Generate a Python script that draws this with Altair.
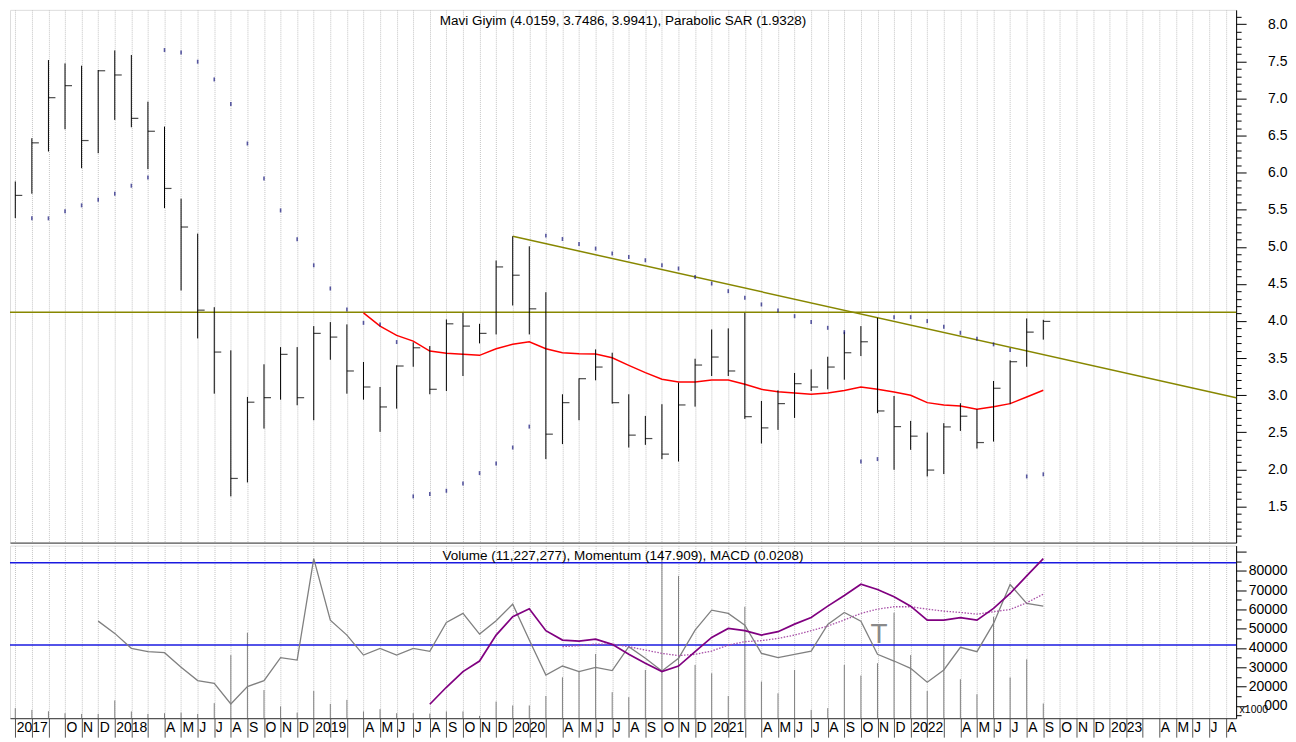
import altair as alt
import pandas as pd

FONT = "Liberation Sans"

# ---------------- data (monthly, slot 0 = Jul 2017) ----------------
high = [5.881, 6.464, 7.518, 7.473, 7.442, 7.384, 7.648, 7.586, 6.957, 6.621,
        5.649, 5.178, 4.186, 3.604, 2.976, 3.416, 3.648, 3.648, 3.931, 3.985,
        3.954, 3.447, 3.110, 3.402, 3.712, 3.662, 4.021, 4.110, 3.962, 4.815,
        5.142, 5.007, 4.388, 3.012, 3.227, 3.617, 3.572, 3.012, 2.720, 2.878,
        3.168, 3.491, 3.886, 3.900, 4.110, 2.922, 3.066, 3.299, 3.348, 3.518,
        3.854, 3.931, 4.042, 2.989, 2.653, 2.496, 2.622, 2.891, 2.810, 3.191,
        3.469, 4.034, 4.0159]
low = [5.388, 5.716, 6.285, 6.585, 6.060, 6.262, 6.711, 6.612, 6.047, 5.522,
       4.411, 3.765, 3.020, 1.635, 1.823, 2.549, 2.939, 2.864, 2.662, 3.477,
       3.020, 2.939, 2.505, 2.818, 3.383, 3.012, 3.056, 3.258, 3.698, 3.819,
       4.209, 3.819, 2.138, 2.340, 2.662, 3.200, 2.886, 2.294, 2.330, 2.138,
       2.105, 2.845, 3.258, 3.258, 2.680, 2.348, 2.532, 2.693, 3.056, 3.079,
       3.208, 3.527, 2.757, 1.994, 2.263, 1.904, 1.936, 2.518, 2.280, 2.374,
       2.878, 3.383, 3.7486]
close = [5.693, 6.402, 7.011, 7.173, 6.433, 7.374, 7.317, 6.733, 6.558, 5.787,
         5.267, 4.146, 3.581, 1.877, 2.905, 2.966, 3.550, 2.966, 3.833, 3.783,
         3.326, 3.110, 2.841, 3.393, 3.639, 3.079, 3.962, 3.931, 3.833, 4.729,
         4.617, 4.164, 2.474, 2.899, 3.222, 3.379, 2.899, 2.461, 2.415, 2.205,
         2.868, 3.406, 3.514, 3.326, 2.710, 2.559, 2.886, 3.155, 3.110, 3.379,
         3.572, 3.720, 2.787, 2.576, 2.447, 1.990, 2.572, 2.716, 2.361, 3.093,
         3.451, 3.850, 3.9941]
sar = [None, 5.384, 5.384, 5.478, 5.559, 5.635, 5.716, 5.824, 5.935, 7.653,
       7.621, 7.496, 7.257, 6.927, 6.393, 5.922, 5.491, 5.101, 4.751, 4.438,
       4.155, 3.975, 3.954, 3.716, 1.635, 1.667, 1.711, 1.810, 1.949, 2.079,
       2.294, 2.576, 5.151, 5.105, 5.038, 4.976, 4.909, 4.863, 4.819, 4.751,
       4.707, 4.594, 4.505, 4.402, 4.312, 4.223, 4.142, 4.065, 3.985, 3.908,
       3.850, 2.105, 2.138, 4.052, 4.052, 3.998, 3.921, 3.841, 3.760, 3.685,
       3.608, 1.904, 1.9328]
ma_start = 21
ma = [4.110, 3.931, 3.806, 3.729, 3.595, 3.564, 3.550, 3.537, 3.626, 3.685,
      3.720, 3.626, 3.572, 3.558, 3.554, 3.504, 3.402, 3.303, 3.214, 3.178,
      3.178, 3.204, 3.204, 3.147, 3.079, 3.047, 3.030, 3.012, 3.030, 3.063,
      3.110, 3.079, 3.043, 2.999, 2.899, 2.868, 2.855, 2.810, 2.845, 2.886,
      2.976, 3.066]
resistance_level = [4.119]
trend_slots = [30, 73.63]
trend_prices = [5.142, 2.966]

volume = [8800, 7900, 7200, 6200, 5800, 5800, 12800, 7100, 5800, 6200,
          6500, 5800, 11400, 36300, 47900, 18200, 9700, 6500, 17700, 11000,
          13100, 7100, 8300, 6200, 6200, 6000, 7100, 7100, 4800, 12200,
          10200, 10200, 15100, 24800, 27800, 36900, 17100, 14500, 28600, 90500,
          77400, 31200, 26900, 15100, 61400, 22600, 16500, 28600, 7900, 8800,
          31200, 25700, 32100, 58300, 36300, 17700, 41500, 23800, 16000, 56200,
          24700, 34100, 11227]
mom_start = 5
momentum = [53930, 47570, 39810, 38100, 37585, 29980, 23100, 21710, 11000, 20000,
            23100, 35000, 33760, 86360, 54450, 46690, 36340, 39810, 36340, 39810,
            38260, 53260, 57910, 47210, 54140, 62720, 44100, 26000, 30650, 27760,
            29980, 28280, 40690, 34640, 28070, 34640, 49280, 59620, 57910, 51860,
            37220, 35000, 36710, 38410, 52220, 58430, 53930, 36710, 33240, 29460,
            22220, 28590, 40330, 38100, 52740, 72910, 63090, 61690]
macd_start = 25
macd = [10840, 19640, 27760, 33240, 46690, 56210, 60340, 48965, 44100, 43590,
        44620, 41880, 36710, 32050, 27760, 30650, 38100, 45500, 50150, 48965,
        46690, 48450, 52380, 55840, 61690, 67220, 73070, 70330, 66550, 61690,
        54450, 54450, 55690, 54450, 60500, 68260, 77410, 86360]
signal_start = 33
signal = [40690, 41210, 42030, 42030, 40690, 38930, 37220, 36030, 36710, 38410,
          41520, 43275, 43790, 44980, 46690, 48965, 51340, 54550, 57910, 60140,
          61380, 61380, 60140, 59100, 58430, 57550, 58790, 59980, 63450, 67900]
blue_levels = [84140, 41520]
t_marker = {"slot": [52.1], "val": [46690], "txt": ["T"]}

month_labels = (
    ["2017", "", "", "O", "N", "D"]
    + ["2018", "", "", "A", "M", "J", "J", "A", "S", "O", "N", "D"]
    + ["2019", "", "", "A", "M", "J", "J", "A", "S", "O", "N", "D"]
    + ["2020", "", "", "A", "M", "J", "J", "A", "S", "O", "N", "D"]
    + ["2021", "", "", "A", "M", "J", "J", "A", "S", "O", "N", "D"]
    + ["2022", "", "", "A", "M", "J", "J", "A", "S", "O", "N", "D"]
    + ["2023", "", "", "A", "M", "J", "J", "A"]
)

title_top = "Mavi Giyim (4.0159, 3.7486, 3.9941), Parabolic SAR (1.9328)"
title_bottom = "Volume (11,227,277), Momentum (147.909), MACD (0.0208)"

# ---------------- frames ----------------
n = len(close)
price_df = pd.DataFrame({"slot": list(range(n)), "high": high, "low": low, "close": close})
sar_df = pd.DataFrame({"slot": list(range(n)), "sar": sar}).dropna()
ma_df = pd.DataFrame({"slot": list(range(ma_start, ma_start + len(ma))), "ma": ma})
hl_df = pd.DataFrame({"level": resistance_level})
trend_df = pd.DataFrame({"slot": trend_slots, "price": trend_prices})

vol_df = pd.DataFrame({"slot": list(range(n)), "vol": volume})
mom_df = pd.DataFrame({"slot": list(range(mom_start, mom_start + len(momentum))), "v": momentum})
macd_df = pd.DataFrame({"slot": list(range(macd_start, macd_start + len(macd))), "v": macd})
sig_df = pd.DataFrame({"slot": list(range(signal_start, signal_start + len(signal))), "v": signal})
blue_df = pd.DataFrame({"level": blue_levels})
t_df = pd.DataFrame(t_marker)

# ---------------- scales / axes ----------------
W = 1229
slot_ticks = list(range(len(month_labels)))
x_scale = alt.Scale(domain=[-0.319, 73.63], nice=False, zero=False)
GRID = dict(grid=True, gridColor="#c4c4c4", gridDash=[1, 1], gridWidth=1)

x_axis_top = alt.Axis(values=slot_ticks, labels=False, ticks=False, domain=True,
                      domainColor="#333333", domainWidth=1, title=None, orient="bottom", **GRID)
label_js = "[" + ",".join("'%s'" % s for s in month_labels) + "][datum.value]"
x_axis_bot = alt.Axis(values=slot_ticks, labelExpr=label_js, labelAlign="left", labelBaseline="middle",
                      labelOffset=1, labelPadding=-10, labelFontSize=14, labelFont=FONT, labelColor="black",
                      labelOverlap=False, labelFlush=False, labelBound=False,
                      ticks=True, tickSize=19, tickColor="#555555", tickWidth=1,
                      domain=True, domainColor="#333333", domainWidth=1, title=None, orient="bottom", **GRID)

y_top_scale = alt.Scale(domain=[1.012, 8.195], nice=False, zero=False)
y_top_ticks = [round(1.1 + 0.1 * i, 1) for i in range(71)]
major_top = "abs(datum.value*2 - round(datum.value*2)) < 0.001"
y_axis_top = alt.Axis(orient="right", values=y_top_ticks, title=None, grid=False,
                      labelExpr="%s ? format(datum.value, '.1f') : ''" % major_top,
                      tickSize={"condition": {"test": major_top, "value": 10}, "value": 5},
                      tickColor="black", domainColor="black", labelAlign="right", labelPadding=41,
                      labelFontSize=14, labelFont=FONT, labelColor="black",
                      labelOverlap=False, labelFlush=False, labelBound=False)

y_bot_scale = alt.Scale(domain=[3602, 93086], nice=False, zero=False)
y_bot_ticks = list(range(5000, 90001, 5000))
major_bot = "datum.value % 10000 === 0"
y_axis_bot = alt.Axis(orient="right", values=y_bot_ticks, title="x1000", titleAngle=0,
                      titleX=3, titleY=164, titleAlign="left", titleBaseline="middle",
                      titleFontSize=10.5, titleFont=FONT, titleFontWeight="normal", titleColor="black",
                      grid=False,
                      labelExpr=("%s && datum.value < 90000 ? (datum.value === 10000 ? '000' : "
                                 "format(datum.value, 'd')) : ''") % major_bot,
                      tickSize={"condition": {"test": major_bot, "value": 10}, "value": 5},
                      tickColor="black", domainColor="black", labelAlign="right", labelPadding=41,
                      labelFontSize=14, labelFont=FONT, labelColor="black",
                      labelOverlap=False, labelFlush=False, labelBound=False)


def xt(field="slot"):
    return alt.X(f"{field}:Q", scale=x_scale, axis=x_axis_top)


def xb(field="slot"):
    return alt.X(f"{field}:Q", scale=x_scale, axis=x_axis_bot)


def yt(field):
    return alt.Y(f"{field}:Q", scale=y_top_scale, axis=y_axis_top)


def yb(field):
    return alt.Y(f"{field}:Q", scale=y_bot_scale, axis=y_axis_bot)


# ---------------- top panel ----------------
bars = alt.Chart(price_df).mark_rule(color="black", strokeWidth=1).encode(
    x=xt(), y=yt("low"), y2="high:Q")
closes = alt.Chart(price_df).mark_tick(orient="horizontal", size=7, thickness=1.2, xOffset=3.5,
                                       color="black").encode(x=xt(), y=yt("close"))
sar_m = alt.Chart(sar_df).mark_tick(orient="vertical", size=4, thickness=1.6,
                                    color="#14147a").encode(x=xt(), y=yt("sar"))
ma_l = alt.Chart(ma_df).mark_line(color="#ff0000", strokeWidth=1.5).encode(x=xt(), y=yt("ma"))
hline = alt.Chart(hl_df).mark_rule(color="#878700", strokeWidth=1.5).encode(y=yt("level"))
trend = alt.Chart(trend_df).mark_line(color="#878700", strokeWidth=1.5).encode(x=xt(), y=yt("price"))

top = alt.layer(hline, trend, ma_l, bars, closes, sar_m).properties(
    width=W, height=534,
    title=alt.TitleParams(title_top, anchor="middle", frame="group", orient="top", offset=-24.5,
                          baseline="middle", fontSize=13.5, font=FONT, fontWeight="normal",
                          color="black"))

# ---------------- bottom panel ----------------
vol = alt.Chart(vol_df).mark_rule(color="#808080", strokeWidth=1, clip=True).encode(
    x=xb(), y=yb("vol"), y2=alt.datum(0))
blue = alt.Chart(blue_df).mark_rule(color="#1a1ae0", strokeWidth=1.5).encode(y=yb("level"))
mom = alt.Chart(mom_df).mark_line(color="#808080", strokeWidth=1.3).encode(x=xb(), y=yb("v"))
sig = alt.Chart(sig_df).mark_line(color="#a850a8", strokeWidth=1.3, strokeDash=[1.5, 1.5]).encode(
    x=xb(), y=yb("v"))
macd_l = alt.Chart(macd_df).mark_line(color="#800080", strokeWidth=1.7).encode(x=xb(), y=yb("v"))
t_txt = alt.Chart(t_df).mark_text(fontSize=28, font=FONT, color="#8a8a8a", baseline="middle",
                                  align="center").encode(x=xb(), y=yb("val"), text="txt:N")

bottom = alt.layer(vol, blue, mom, sig, macd_l, t_txt).properties(
    width=W, height=173,
    title=alt.TitleParams(title_bottom, anchor="middle", frame="group", orient="top", offset=-24.5,
                          baseline="middle", fontSize=13.5, font=FONT, fontWeight="normal",
                          color="black"))

chart = alt.vconcat(top, bottom, spacing=0).properties(
    padding={"left": 0, "top": 0, "right": 0, "bottom": 0}
).configure_view(stroke=None).configure(font=FONT, background="white")

chart.save("out.html", embed_options={"renderer": "svg", "actions": False})
